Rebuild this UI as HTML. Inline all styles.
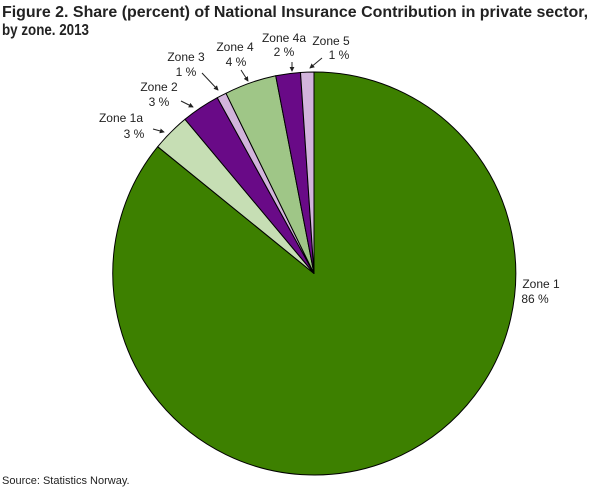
<!DOCTYPE html>
<html><head><meta charset="utf-8"><style>
html,body{margin:0;padding:0;background:#fff;}
svg{display:block;font-family:"Liberation Sans",sans-serif;}
</style></head><body>
<svg width="610" height="488" viewBox="0 0 610 488">
<defs><marker id="a" viewBox="0 0 6 6" refX="5" refY="3" markerWidth="5" markerHeight="5" orient="auto"><path d="M0,0 L6,3 L0,6 Z" fill="#222"/></marker></defs>
<text x="2" y="17" font-size="16" font-weight="bold" fill="#222" textLength="586" lengthAdjust="spacingAndGlyphs">Figure 2. Share (percent) of National Insurance Contribution in private sector,</text>
<text x="2" y="35" font-size="16" font-weight="bold" fill="#222" textLength="87" lengthAdjust="spacingAndGlyphs">by zone. 2013</text>
<g stroke="#000" stroke-width="1" stroke-linejoin="round">
<path d="M314,273.5 L314,72 A201.5,201.5 0 1 1 157.7,146.7 Z" fill="#3d8000"/>
<path d="M314,273.5 L157.7,146.7 A201.5,201.5 0 0 1 185,119.3 Z" fill="#c6deb4"/>
<path d="M314,273.5 L185,119.3 A201.5,201.5 0 0 1 217.3,97.7 Z" fill="#690a87"/>
<path d="M314,273.5 L217.3,97.7 A201.5,201.5 0 0 1 226,93.3 Z" fill="#d2b4dc"/>
<path d="M314,273.5 L226,93.3 A201.5,201.5 0 0 1 275.7,75.7 Z" fill="#9fc687"/>
<path d="M314,273.5 L275.7,75.7 A201.5,201.5 0 0 1 300.5,72.5 Z" fill="#690a87"/>
<path d="M314,273.5 L300.5,72.5 A201.5,201.5 0 0 1 314,72 Z" fill="#d2b4dc"/>
</g>
<g font-size="12" fill="#222" text-anchor="middle">
<text x="121" y="122">Zone 1a</text><text x="134" y="138">3 %</text>
<text x="159" y="91">Zone 2</text><text x="159" y="106">3 %</text>
<text x="186" y="61">Zone 3</text><text x="186" y="76">1 %</text>
<text x="235" y="51">Zone 4</text><text x="236" y="66">4 %</text>
<text x="284" y="42">Zone 4a</text><text x="284" y="56">2 %</text>
<text x="331" y="45">Zone 5</text><text x="339" y="59">1 %</text>
<text x="541" y="288">Zone 1</text><text x="535" y="303">86 %</text>
</g>
<g stroke="#222" stroke-width="1" fill="none" marker-end="url(#a)">
<line x1="153" y1="129" x2="164" y2="132"/>
<line x1="181" y1="101" x2="193" y2="107"/>
<line x1="202" y1="73" x2="218" y2="90"/>
<line x1="241" y1="70" x2="248" y2="81"/>
<line x1="292" y1="62" x2="292" y2="71"/>
<line x1="322" y1="58" x2="310" y2="68"/>
</g>
<text x="2" y="484" font-size="11" fill="#222">Source: Statistics Norway.</text>
</svg>
</body></html>
